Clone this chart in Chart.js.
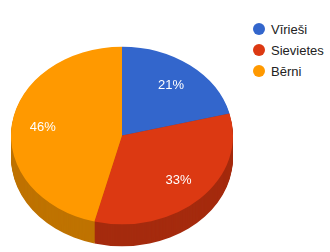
<!DOCTYPE html>
<html>
<head>
<meta charset="utf-8">
<script src="https://cdn.jsdelivr.net/npm/chart.js@4.4.1/dist/chart.umd.min.js"></script>
<style>
  body { margin: 0; background: #fff; font-family: "Liberation Sans", Arial, sans-serif; }
  #wrap { position: relative; width: 330px; height: 252px; }
  #pie { position: absolute; left: 0; top: 0; }
  #legend { position: absolute; left: 253px; top: 18.5px; list-style: none; margin: 0; padding: 0; font-size: 13px; color: #222; }
  #legend li { height: 21px; display: flex; align-items: center; white-space: nowrap; }
  #legend span { display: inline-block; width: 12px; height: 12px; border-radius: 50%; margin-right: 6px; }
</style>
</head>
<body>
<div id="wrap">
  <canvas id="pie" width="244" height="252"></canvas>
  <ul id="legend"></ul>
</div>
<script>
const labels = ["Vīrieši", "Sievietes", "Bērni"];
const values = [21, 33, 46];
const colors = ["#3366cc", "#dc3912", "#ff9900"];
const sideColors = ["#264d99", "#a52b0e", "#bf7300"];

const DEPTH = 22;
const TILT = 0.8;

// fake 3d: squash the pie and paint a darker wall under it
const pie3d = {
  id: "pie3d",
  beforeDatasetsDraw(chart) {
    const ctx = chart.ctx;
    const arcs = chart.getDatasetMeta(0).data;
    const { x, y } = arcs[0];
    for (let d = DEPTH; d > 0; d--) {
      ctx.save();
      ctx.translate(x, y + d);
      ctx.scale(1, TILT);
      arcs.forEach((a, i) => {
        ctx.beginPath();
        ctx.moveTo(0, 0);
        ctx.arc(0, 0, a.outerRadius, a.startAngle, a.endAngle);
        ctx.closePath();
        ctx.fillStyle = sideColors[i];
        ctx.fill();
      });
      ctx.restore();
    }
    ctx.save();
    ctx.translate(x, y);
    ctx.scale(1, TILT);
    ctx.translate(-x, -y);
  },
  afterDatasetsDraw(chart) {
    const ctx = chart.ctx;
    ctx.restore();
    const arcs = chart.getDatasetMeta(0).data;
    const total = values.reduce((s, v) => s + v, 0);
    ctx.save();
    ctx.fillStyle = "#fff";
    ctx.font = '13px "Liberation Sans", Arial, sans-serif';
    ctx.textAlign = "center";
    ctx.textBaseline = "middle";
    arcs.forEach((a, i) => {
      const mid = (a.startAngle + a.endAngle) / 2;
      const r = a.outerRadius * 0.72;
      const lx = a.x + Math.cos(mid) * r;
      const ly = a.y + Math.sin(mid) * r * TILT;
      ctx.fillText(Math.round((values[i] / total) * 100) + "%", lx, ly);
    });
    ctx.restore();
  },
};

new Chart(document.getElementById("pie"), {
  type: "pie",
  data: {
    labels,
    datasets: [{ data: values, backgroundColor: colors, borderWidth: 0, clip: false }],
  },
  options: {
    responsive: false,
    animation: false,
    layout: { padding: { left: 11, right: 11, top: 24.5, bottom: 5.5 } },
    plugins: { legend: { display: false }, tooltip: { enabled: false } },
  },
  plugins: [pie3d],
});

const legendEl = document.getElementById("legend");
labels.forEach((l, i) => {
  const li = document.createElement("li");
  const dot = document.createElement("span");
  dot.style.background = colors[i];
  li.appendChild(dot);
  li.appendChild(document.createTextNode(l));
  legendEl.appendChild(li);
});
</script>
</body>
</html>
